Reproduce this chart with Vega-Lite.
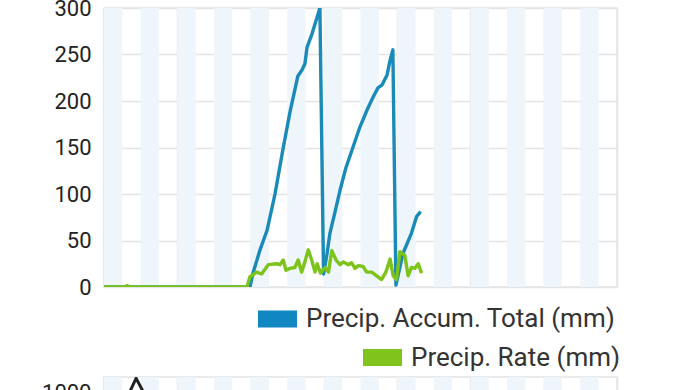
{
  "$schema": "https://vega.github.io/schema/vega-lite/v6.json",
  "autosize": {"type": "none"},
  "padding": {"left": 104, "top": 8, "right": 579, "bottom": 382},
  "background": "white",
  "spacing": 90,
  "bounds": "flush",
  "datasets": {
    "bands": [
      {"s": 0, "e": 6}, {"s": 12, "e": 18}, {"s": 24, "e": 30}, {"s": 36, "e": 42},
      {"s": 48, "e": 54}, {"s": 60, "e": 66}, {"s": 72, "e": 78}, {"s": 84, "e": 90},
      {"s": 96, "e": 102}, {"s": 108, "e": 114}, {"s": 120, "e": 126}, {"s": 132, "e": 138},
      {"s": 144, "e": 150}, {"s": 156, "e": 162}
    ],
    "accum": [
      {"h": 0, "v": 0}, {"h": 47.8, "v": 0}, {"h": 48.8, "v": 15}, {"h": 51.1, "v": 40},
      {"h": 53.4, "v": 61}, {"h": 56.0, "v": 100}, {"h": 58.6, "v": 148}, {"h": 60.9, "v": 188},
      {"h": 63.5, "v": 227}, {"h": 64.8, "v": 233}, {"h": 65.8, "v": 240}, {"h": 66.5, "v": 258},
      {"h": 68.1, "v": 272}, {"h": 69.4, "v": 286}, {"h": 70.7, "v": 300}, {"h": 71.9, "v": 14},
      {"h": 73.0, "v": 35}, {"h": 74.0, "v": 58}, {"h": 75.6, "v": 80}, {"h": 77.3, "v": 104},
      {"h": 79.2, "v": 128}, {"h": 81.2, "v": 147}, {"h": 83.8, "v": 172}, {"h": 86.1, "v": 190},
      {"h": 88.1, "v": 204}, {"h": 89.7, "v": 214}, {"h": 91.0, "v": 217}, {"h": 92.7, "v": 228},
      {"h": 93.7, "v": 244}, {"h": 94.6, "v": 255}, {"h": 95.6, "v": 2}, {"h": 97.9, "v": 36},
      {"h": 100.7, "v": 58}, {"h": 102.4, "v": 76}, {"h": 103.7, "v": 81}
    ],
    "rate": [
      {"h": 0, "v": 0}, {"h": 6.9, "v": 0}, {"h": 7.5, "v": 1.5}, {"h": 8.5, "v": 0},
      {"h": 46.8, "v": 0}, {"h": 47.8, "v": 11}, {"h": 50.0, "v": 16}, {"h": 51.6, "v": 14},
      {"h": 53.8, "v": 24}, {"h": 56.6, "v": 25}, {"h": 57.6, "v": 24}, {"h": 58.7, "v": 29},
      {"h": 59.6, "v": 18}, {"h": 60.9, "v": 20}, {"h": 62.5, "v": 21}, {"h": 63.6, "v": 29},
      {"h": 64.7, "v": 16}, {"h": 65.8, "v": 27}, {"h": 66.9, "v": 40}, {"h": 68.0, "v": 29},
      {"h": 69.1, "v": 16}, {"h": 69.8, "v": 25}, {"h": 70.9, "v": 15}, {"h": 72.4, "v": 21},
      {"h": 73.5, "v": 16}, {"h": 74.6, "v": 39}, {"h": 76.0, "v": 29}, {"h": 77.3, "v": 24},
      {"h": 78.4, "v": 27}, {"h": 80.0, "v": 24}, {"h": 81.1, "v": 26}, {"h": 82.2, "v": 20},
      {"h": 83.3, "v": 23}, {"h": 84.9, "v": 22}, {"h": 86.0, "v": 16}, {"h": 87.7, "v": 16},
      {"h": 89.3, "v": 12}, {"h": 90.9, "v": 8}, {"h": 92.3, "v": 16}, {"h": 93.7, "v": 30},
      {"h": 94.7, "v": 12}, {"h": 95.8, "v": 8}, {"h": 96.9, "v": 38}, {"h": 98.5, "v": 34},
      {"h": 99.6, "v": 12}, {"h": 100.7, "v": 21}, {"h": 101.8, "v": 20}, {"h": 102.9, "v": 25},
      {"h": 104.0, "v": 15}
    ],
    "lower": [
      {"h": 4, "v": 700}, {"h": 8.5, "v": 1005}, {"h": 10.5, "v": 1055}, {"h": 12.8, "v": 1005}, {"h": 17, "v": 700}
    ]
  },
  "vconcat": [
    {
      "width": 513,
      "height": 279,
      "resolve": {"scale": {"color": "independent"}},
      "layer": [
        {
          "data": {"name": "bands"},
          "mark": {"type": "rect", "fill": "#eef5fb"},
          "encoding": {
            "x": {"field": "s", "type": "quantitative", "scale": {"domain": [0, 168], "nice": false},
                  "axis": {"values": [0, 24, 48, 72, 96, 120, 144, 168], "labels": false, "grid": true, "title": null}},
            "x2": {"field": "e"}
          }
        },
        {
          "data": {"name": "accum"},
          "mark": {"type": "line", "strokeWidth": 3.4, "strokeJoin": "round", "clip": true},
          "encoding": {
            "x": {"field": "h", "type": "quantitative", "scale": {"domain": [0, 168], "nice": false},
                  "axis": {"values": [0, 24, 48, 72, 96, 120, 144, 168], "labels": false, "grid": true, "title": null}},
            "y": {"field": "v", "type": "quantitative", "scale": {"domain": [0, 300], "nice": false},
                  "axis": {"values": [0, 50, 100, 150, 200, 250, 300], "grid": true, "title": null, "labelPadding": 13}},
            "color": {"datum": "Precip. Accum. Total (mm)", "type": "nominal",
                      "scale": {"domain": ["Precip. Accum. Total (mm)"], "range": ["#1a8ab8"]},
                      "legend": {"orient": "none", "legendX": 154, "legendY": 291.5, "title": null,
                                 "encode": {"symbols": {"update": {"fill": {"value": "#1187c1"}, "stroke": {"value": "transparent"}, "strokeWidth": {"value": 0}, "opacity": {"value": 1}}}}}}
          }
        },
        {
          "data": {"name": "rate"},
          "mark": {"type": "line", "strokeWidth": 3.4, "strokeJoin": "round", "clip": true},
          "encoding": {
            "x": {"field": "h", "type": "quantitative", "scale": {"domain": [0, 168], "nice": false},
                  "axis": {"values": [0, 24, 48, 72, 96, 120, 144, 168], "labels": false, "grid": true, "title": null}},
            "y": {"field": "v", "type": "quantitative", "scale": {"domain": [0, 300], "nice": false},
                  "axis": {"values": [0, 50, 100, 150, 200, 250, 300], "grid": true, "title": null, "labelPadding": 13}},
            "color": {"datum": "Precip. Rate (mm)", "type": "nominal",
                      "scale": {"domain": ["Precip. Rate (mm)"], "range": ["#7cc31b"]},
                      "legend": {"orient": "none", "legendX": 259, "legendY": 330, "title": null,
                                 "encode": {"symbols": {"update": {"fill": {"value": "#80c31c"}, "stroke": {"value": "transparent"}, "strokeWidth": {"value": 0}, "opacity": {"value": 1}}}}}}
          }
        }
      ]
    },
    {
      "width": 513,
      "height": 279,
      "layer": [
        {
          "data": {"name": "bands"},
          "mark": {"type": "rect", "fill": "#eef5fb"},
          "encoding": {
            "x": {"field": "s", "type": "quantitative", "scale": {"domain": [0, 168], "nice": false},
                  "axis": {"values": [0, 24, 48, 72, 96, 120, 144, 168], "labels": false, "grid": true, "title": null}},
            "x2": {"field": "e"}
          }
        },
        {
          "data": {"name": "lower"},
          "mark": {"type": "line", "strokeWidth": 3, "strokeJoin": "round", "color": "#222222", "clip": true},
          "encoding": {
            "x": {"field": "h", "type": "quantitative", "scale": {"domain": [0, 168], "nice": false},
                  "axis": {"values": [0, 24, 48, 72, 96, 120, 144, 168], "labels": false, "grid": true, "title": null}},
            "y": {"field": "v", "type": "quantitative", "scale": {"domain": [0, 1060], "nice": false},
                  "axis": {"values": [0, 250, 500, 750, 1000], "format": "d", "grid": true, "title": null, "labelPadding": 13}}
          }
        }
      ]
    }
  ],
  "config": {
    "view": {"stroke": "#e4e4e4", "strokeWidth": 1.5},
    "axis": {
      "labelFont": "Roboto", "labelFontSize": 22, "labelColor": "#222222",
      "gridColor": "#e4e4e4", "gridWidth": 1.5, "ticks": false, "domain": false, "zindex": 1
    },
    "legend": {
      "labelFont": "Roboto", "labelFontSize": 26, "labelColor": "#333333",
      "symbolType": "M-1,-0.436H1V0.436H-1Z", "symbolSize": 1521, "labelOffset": 9,
      "padding": 0, "offset": 0, "labelLimit": 0
    }
  }
}
